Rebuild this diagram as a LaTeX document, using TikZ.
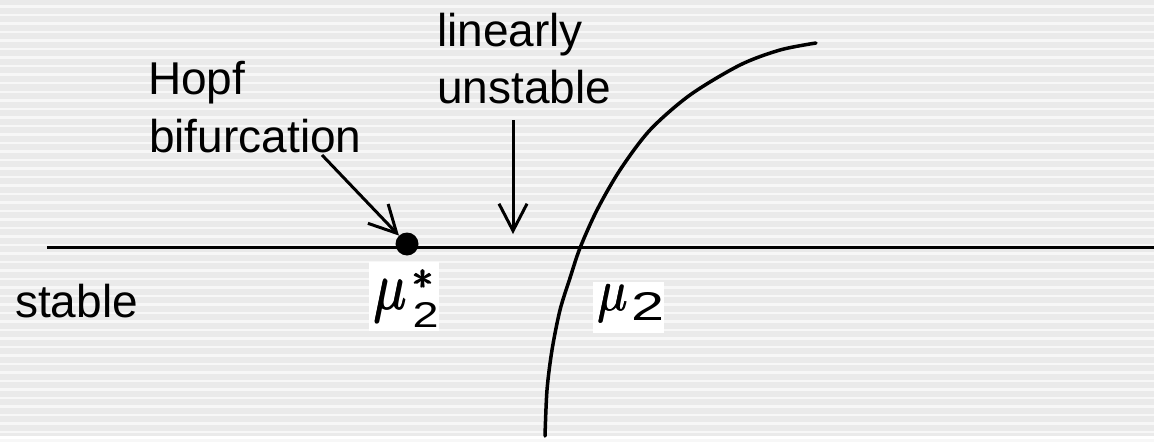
\RequirePackage{fix-cm}
\documentclass[tikz,border=0pt]{standalone}
\usepackage{graphicx}
\usepackage{fontspec}
\setmainfont{Liberation Sans}
\usetikzlibrary{arrows.meta}
\definecolor{bggray}{RGB}{234,234,234}
\definecolor{bgstripe}{RGB}{247,247,247}
\newcommand{\heavyglyph}[1]{\makebox[0pt][l]{\hspace{1.3pt}#1}\makebox[0pt][l]{\raisebox{0.6pt}{\hspace{0.6pt}#1}}#1}
\begin{document}
\begin{tikzpicture}[x=1pt,y=-1pt,
  txt/.style={font=\fontsize{46}{57}\selectfont, inner sep=0pt, anchor=base west},
  mathlbl/.style={fill=white, inner sep=0pt, anchor=base west, font=\fontsize{10}{10}\selectfont},
  ln/.style={line width=3pt},
  arr/.style={line width=3pt, -{Straight Barb[length=27pt,width=28pt]}},
  curve/.style={line width=3.5pt, line cap=round}
]
\fill[bggray] (0,0) rectangle (1154,436);
\foreach \i in {0,...,51} \fill[bgstripe] (0,{5.5+8.5*\i}) rectangle (1154,{8+8.5*\i});
\useasboundingbox (0,0) rectangle (1154,436);

\node[txt] (hopf) at (148,94) {Hopf};
\node[txt] (bif) at (149,152) {bifurcation};
\node[txt] (lin) at (437,47) {linearly};
\node[txt] (uns) at (437,103) {unstable};
\node[txt] (stable) at (15,317) {stable};

\coordinate (axl) at (47,247.5);
\coordinate (axr) at (1154,247.5);
\draw[ln] (axl) -- (axr);

\draw[curve] plot[smooth] coordinates {(545,436) (547,390) (552,350) (560,310) (570,278) (580,248) (597,210) (620,170) (650,130) (690,95) (740,65) (780,50) (816,43)};

\node[circle, fill=black, minimum size=23pt, inner sep=0pt] (dot) at (407,244) {};

\coordinate (hopfstart) at (322,155);
\draw[arr] (hopfstart) -- (dot);

\coordinate (lustart) at (513,120);
\coordinate (lutip) at (513,234);
\draw[arr] (lustart) -- (lutip);

\node[mathlbl, text height=47pt, text depth=22pt] (mustar) at (369,309) {\makebox[70pt][l]{\hspace*{4pt}\heavyglyph{\resizebox*{33pt}{42pt}{$\mu$}}\hspace{5.5pt}\rlap{\raisebox{19.5pt}{\heavyglyph{\resizebox*{21pt}{19pt}{$\ast$}}}}\hspace{1pt}\raisebox{-18pt}{\resizebox*{26pt}{25pt}{\fontsize{35}{35}\selectfont 2}}}};
\node[mathlbl, text height=28.6pt, text depth=22.4pt] (mu) at (593,310.6) {\makebox[71pt][l]{\hspace*{4pt}\heavyglyph{\resizebox*{30pt}{37pt}{$\mu$}}\hspace{4pt}\raisebox{-9.6pt}{\resizebox*{33pt}{28pt}{\fontsize{39}{39}\selectfont 2}}}};
\end{tikzpicture}
\end{document}
